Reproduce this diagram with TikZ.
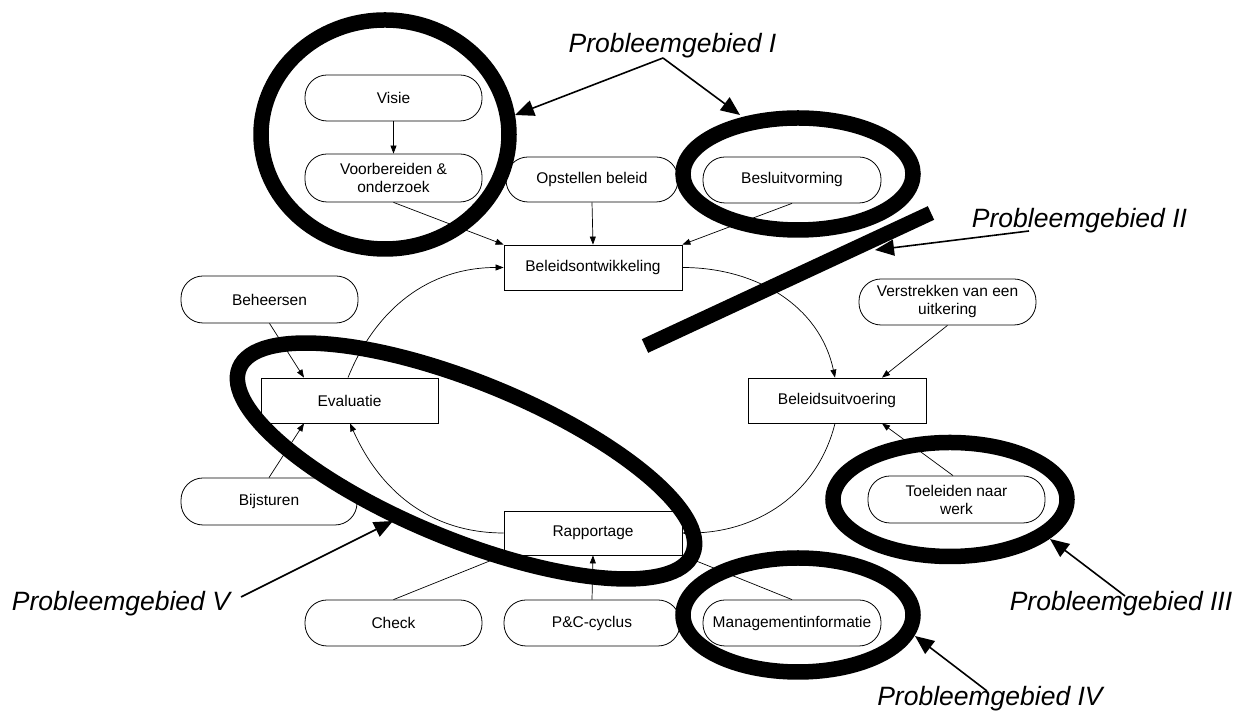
\documentclass[tikz,border=0pt]{standalone}
\usepackage{fontspec}
\setmainfont{Liberation Sans}
\usetikzlibrary{arrows.meta}
\begin{document}
\begin{tikzpicture}[x=1pt,y=1pt,
  lbl/.style={font=\fontsize{15.5}{18}\selectfont, align=center, inner sep=0pt,
    line width=0.8pt, draw, fill=white, minimum width=177pt, minimum height=46pt},
  rbox/.style={lbl, rounded corners=22pt},
  sbox/.style={lbl, minimum width=178pt, minimum height=45pt},
  con/.style={line width=0.7pt, -{Triangle[length=8pt,width=6pt]}},
  ring/.style={line width=15.5pt},
  bar/.style={line width=15pt},
  pg/.style={font=\fontsize{26.5}{30}\selectfont\itshape, inner sep=0pt, anchor=base},
  pgarrow/.style={line width=1.6pt, -{Triangle[length=19pt,width=16pt]}}]

\useasboundingbox (0,0) rectangle (1245,711);

% nodes
\node[rbox] (visie) at (393.5,613) {Visie};
\node[rbox, minimum height=48pt] (voor) at (393.5,533) {Voorbereiden \&\\onderzoek};
\node[rbox, minimum width=172pt, minimum height=45pt] (opst) at (592,531.5) {Opstellen beleid};
\node[rbox, minimum width=178pt] (besl) at (792,531) {Besluitvorming};
\node[sbox] (bont) at (593,443.5) {Beleidsontwikkeling};
\node[rbox, minimum height=47pt] (beh) at (269.5,411.5) {Beheersen};
\node[sbox, minimum width=177pt] (eval) at (349.5,310.5) {Evaluatie};
\node[rbox, minimum width=176pt, minimum height=47pt] (bijs) at (269,209.5) {Bijsturen};
\node[sbox] (buit) at (837,310.5) {Beleidsuitvoering};
\node[rbox] (verst) at (947.5,409) {Verstrekken van een\\uitkering};
\node[rbox, minimum height=47pt] (toel) at (956.5,211.5) {Toeleiden naar\\werk};
\node[sbox, minimum height=44pt] (rapp) at (593,178) {Rapportage};
\node[rbox] (check) at (393.5,88) {Check};
\node[rbox, minimum width=176pt] (pc) at (592,88) {P\&C-cyclus};
\node[rbox, minimum width=178pt] (mgmt) at (792,88) {Managementinformatie};

% connectors
\draw[con] (visie.south) -- (voor.north);
\draw[con] (voor.south) -- (bont.north west);
\draw[con] (opst.south) -- (bont.north);
\draw[con] (besl.south) -- (bont.north east);
\draw[con] (beh.south) -- ([xshift=-45.5pt]eval.north);
\draw[con] (bijs.north) -- ([xshift=-45.5pt]eval.south);
\draw[con] ([xshift=-1.5pt]eval.north) to[out=68,in=180] (bont.west);
\draw[con] (bont.east) to[out=0,in=102] ([xshift=-2pt]buit.north);
\draw[con] (verst.south) -- ([xshift=45pt]buit.north);
\draw[con] ([xshift=-3.5pt]toel.north) -- ([xshift=45pt]buit.south);
\draw[con] ([xshift=-2pt]buit.south) to[out=-104,in=0] (rapp.east);
\draw[con] (rapp.west) to[out=180,in=-66] ([xshift=0.5pt]eval.south);
\draw[con] (pc.north) -- (rapp.south);
\draw[con] (check.north) -- (rapp.south west);
\draw[con] (mgmt.north) -- (rapp.south east);

% problem areas
\draw[ring] (385,576.5) ellipse [x radius=124, y radius=114.5];
\draw[ring] (798,537) ellipse [x radius=115, y radius=56];
\draw[ring] (950,211.5) ellipse [x radius=117, y radius=57];
\draw[ring] (798,96) ellipse [x radius=115, y radius=57];
\draw[ring, rotate around={-22.3:(466,250)}] (466,250) ellipse [x radius=245, y radius=78.5];
\draw[bar] (645,365) -- (931,498);

% labels
\node[pg] (p1) at (672.5,658) {Probleemgebied I};
\node[pg] (p2) at (1079.5,483) {Probleemgebied II};
\node[pg] (p3) at (1121,100) {Probleemgebied III};
\node[pg] (p4) at (990,5) {Probleemgebied IV};
\node[pg] (p5) at (121,100) {Probleemgebied V};

\coordinate (a1) at (663,653);
\coordinate (t1a) at (515,596);
\coordinate (t1b) at (740,596);
\coordinate (a2) at (1029,480);
\coordinate (t2) at (875,461);
\coordinate (a3) at (1125,115);
\coordinate (t3) at (1050,172);
\coordinate (a4) at (987,20);
\coordinate (t4) at (915,75);
\coordinate (a5) at (241,114);
\coordinate (t5) at (393,190);

\draw[pgarrow] (a1) -- (t1a);
\draw[pgarrow] (a1) -- (t1b);
\draw[pgarrow] (a2) -- (t2);
\draw[pgarrow] (a3) -- (t3);
\draw[pgarrow] (a4) -- (t4);
\draw[pgarrow] (a5) -- (t5);
\end{tikzpicture}
\end{document}
